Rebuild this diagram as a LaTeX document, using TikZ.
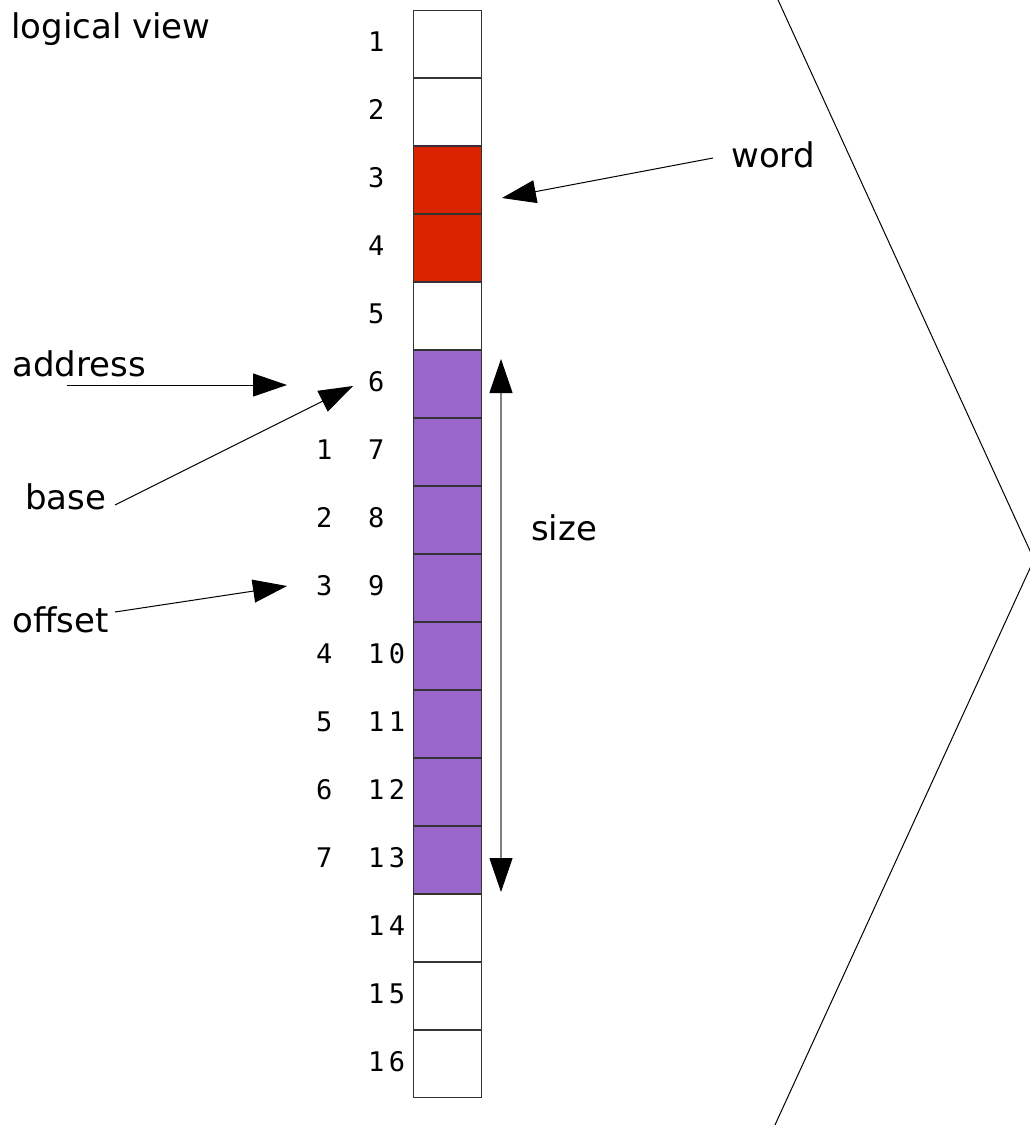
\documentclass[tikz,border=0pt]{standalone}
\usepackage{fontspec}
\setmainfont{DejaVu Sans}
\newfontfamily\cellnumfont{DejaVu Sans Mono}
\usetikzlibrary{arrows.meta}

\definecolor{wordred}{HTML}{DC2300}
\definecolor{blockpurple}{HTML}{9966CC}
\definecolor{cellline}{HTML}{333333}
\definecolor{sizeline}{HTML}{808080}

% two-digit cell numbers are set with a little extra tracking
\newcommand\twodig[2]{#1\kern4.5pt#2}

\begin{document}
\begin{tikzpicture}[x=1pt,y=-1pt,
  cell/.style={draw=cellline, line width=1pt, minimum width=68pt,
    minimum height=67pt, inner sep=0pt, outer sep=0pt, anchor=north west},
  cellnum/.style={inner sep=0pt, anchor=west,
    font=\cellnumfont\fontsize{27}{31}\selectfont},
  caption/.style={inner sep=0pt, anchor=base west,
    font=\fontsize{34}{41}\selectfont},
  pointer/.style={draw=black, line width=1pt,
    -{Triangle[length=34pt,width=23pt]}},
  span/.style={draw=sizeline, line width=1.2pt,
    {Triangle[length=34pt,width=23pt,color=black]}-{Triangle[length=34pt,width=23pt,color=black]}},
  chevron/.style={draw=black, line width=1pt}
]
\useasboundingbox (0,0) rectangle (1030,1125);
\fill[white] (0,0) rectangle (1030,1125);

% memory cells
\foreach \k in {1,2,5,14,15,16}
  \node[cell, fill=white] (c\k) at (413,{10+(\k-1)*68}) {};
\foreach \k in {3,4}
  \node[cell, fill=wordred] (c\k) at (413,{10+(\k-1)*68}) {};
\foreach \k in {6,...,13}
  \node[cell, fill=blockpurple] (c\k) at (413,{10+(\k-1)*68}) {};

% addresses
\foreach \k in {1,...,9}
  \node[cellnum] (n\k) at (368,{41.5+(\k-1)*68}) {\k};
\foreach \k/\t in {10/0,11/1,12/2,13/3,14/4,15/5,16/6}
  \node[cellnum] (n\k) at (368,{41.5+(\k-1)*68}) {\twodig1\t};

% offsets within the block
\foreach \j in {1,...,7}
  \node[cellnum] (o\j) at (316,{41.5+(\j+5)*68}) {\j};

% captions
\node[caption] (logical) at (11,38) {logical view};
\node[caption] (address) at (12,376) {address};
\node[caption] (base) at (25,509) {base};
\node[caption] (offset) at (12,632) {offset};
\node[caption] (word) at (731,167) {word};
\node[caption] (size) at (531,540) {size};

% pointer ends
\coordinate (addrTail) at (67,385);
\coordinate (addrTip) at (287,385);
\coordinate (baseTail) at (115,505);
\coordinate (baseTip) at (353,386);
\coordinate (offTail) at (115,612);
\coordinate (offTip) at (287,586);
\coordinate (wordTail) at (713,158);
\coordinate (wordTip) at (502,198);
\coordinate (sizeTop) at (501,359);
\coordinate (sizeBot) at (501,892);

\draw[pointer] (addrTail) -- (addrTip);
\draw[pointer] (baseTail) -- (baseTip);
\draw[pointer] (offTail) -- (offTip);
\draw[pointer] (wordTail) -- (wordTip);
\draw[span] (sizeTop) -- (sizeBot);

% bracket towards the next view
\begin{scope}
  \clip (0,0) rectangle (1030,1125);
  \coordinate (chevTop) at (768.9,-20);
  \coordinate (chevTip) at (1034,559.5);
  \coordinate (chevBot) at (765.8,1145);
  \draw[chevron] (chevTop) -- (chevTip) -- (chevBot);
\end{scope}
\end{tikzpicture}
\end{document}
